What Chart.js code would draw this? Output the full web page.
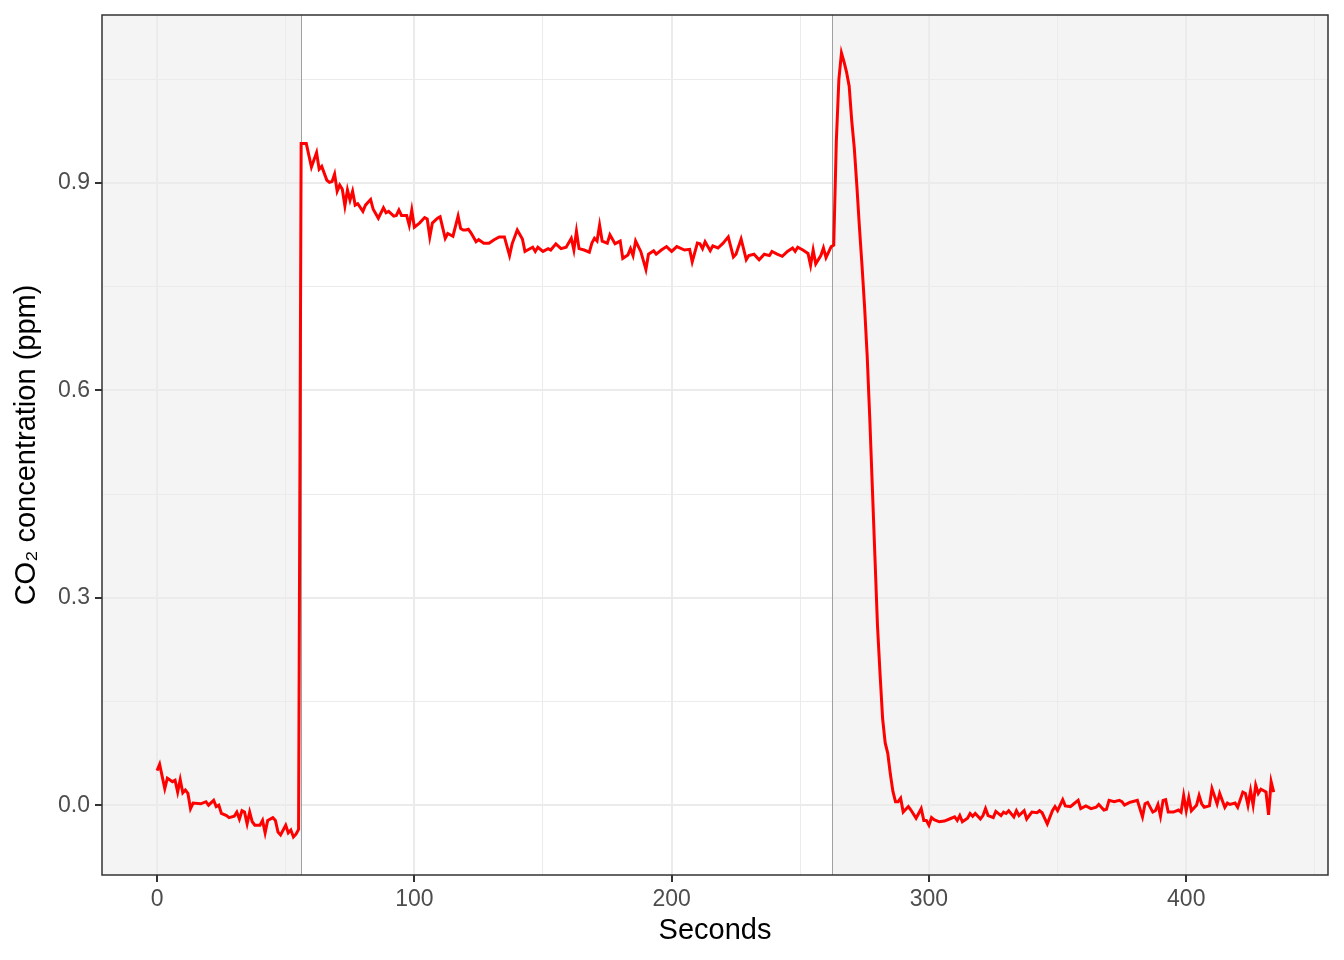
<!DOCTYPE html>
<html lang="en">
<head>
<meta charset="UTF-8">
<title>CO2 concentration</title>
<script src="https://cdn.jsdelivr.net/npm/chart.js"></script>
<style>
  html, body { margin: 0; padding: 0; background: #fff; }
  #wrap { width: 1344px; height: 960px; position: relative; }
</style>
</head>
<body>
<div id="wrap"><canvas id="co2Chart"></canvas></div>
<script>
// time in seconds and CO2 reading
const seconds = [
  0, 1, 3, 4, 6, 7, 8, 9, 10, 11, 12, 13, 14, 17, 19, 20, 22, 23, 24, 25, 27, 28, 30, 31, 32, 33, 34, 35, 36, 37,
  38, 40, 41, 42, 43, 45, 46, 47, 48, 50, 51, 52, 53, 54, 55,
  56, 58, 60, 62, 63, 64, 66, 67, 68, 69, 70, 71, 72, 73, 74, 75, 76, 77, 78, 80, 81, 83, 84, 86, 88, 89, 90, 92, 93, 94,
  95, 97, 98, 99, 100, 102, 104, 105, 106, 107, 109, 110, 112, 113, 115, 117, 118, 119, 120, 121, 122, 124, 125, 127, 129,
  131, 133, 135, 137, 138, 140, 142, 143, 144, 146, 147, 148, 150, 152, 153, 155, 157, 159, 161, 162, 163, 164, 166, 168,
  169, 170, 171, 172, 173, 175, 176, 178, 179, 180, 181, 183, 184, 185, 186, 188, 190, 191, 193, 194, 196, 198, 200, 202,
  205, 207, 208, 210, 211, 212, 213, 215, 216, 218, 220, 222, 224, 225, 227, 229, 230, 232, 234, 236, 238, 239, 241, 243,
  245, 247, 248, 249, 251, 253, 254, 255, 256, 258, 259, 260, 262, 263,
  264, 265, 266, 267, 268, 269, 270, 271, 272, 273, 274, 275, 276, 277, 278, 279, 280, 281, 282, 283, 284, 285, 286, 287,
  288, 289, 290, 292, 293, 295, 296, 297, 298, 299, 300, 301, 302, 304, 306, 308, 310, 311, 312, 313, 315, 316, 317, 318,
  320, 321, 322, 323, 325, 326, 328, 329, 330, 331, 333, 334, 335, 337, 338, 340, 342, 343, 344, 346, 348, 349, 350, 352,
  353, 355, 356, 358, 359, 361, 363, 365, 366, 368, 369, 370, 372, 374, 375, 376, 378, 379, 381, 383, 384, 385, 387, 388,
  389, 390, 391, 392, 393, 395, 397, 398, 399, 400, 401, 402, 404, 405, 406, 407, 409, 410, 412, 413, 415, 416, 417, 419,
  420, 422, 423, 424, 425, 426, 427, 428, 429, 431, 432, 433, 434
];
const co2 = [
  0.050, 0.059, 0.024, 0.039, 0.034, 0.036, 0.019, 0.037, 0.018, 0.022, 0.017, -0.005, 0.003, 0.002, 0.005, 0.000, 0.007,
  -0.002, 0.000, -0.012, -0.015, -0.018, -0.016, -0.010, -0.020, -0.008, -0.010, -0.027, -0.010, -0.024,
  -0.029, -0.029, -0.022, -0.040, -0.022, -0.018, -0.022, -0.039, -0.043, -0.029, -0.040, -0.036, -0.046, -0.042, -0.035,
  0.957, 0.957, 0.923, 0.944, 0.920, 0.924, 0.904, 0.901, 0.902, 0.913, 0.888, 0.897, 0.891, 0.867, 0.890, 0.875, 0.888,
  0.868, 0.870, 0.859, 0.868, 0.876, 0.862, 0.849, 0.864, 0.857, 0.859, 0.852, 0.853, 0.861,
  0.853, 0.853, 0.839, 0.861, 0.836, 0.842, 0.850, 0.848, 0.822, 0.842, 0.849, 0.851, 0.820, 0.827, 0.823, 0.852, 0.834,
  0.832, 0.832, 0.833, 0.828, 0.815, 0.818, 0.813, 0.813,
  0.818, 0.822, 0.822, 0.795, 0.812, 0.832, 0.819, 0.801, 0.803, 0.807, 0.801, 0.807, 0.801, 0.805, 0.803, 0.812, 0.805,
  0.807, 0.820, 0.803, 0.830, 0.805, 0.803, 0.800,
  0.813, 0.820, 0.816, 0.839, 0.816, 0.813, 0.825, 0.812, 0.814, 0.816, 0.791, 0.796, 0.805, 0.795, 0.816, 0.801, 0.775,
  0.797, 0.802, 0.797, 0.803, 0.808, 0.801, 0.808,
  0.803, 0.804, 0.786, 0.813, 0.812, 0.805, 0.815, 0.802, 0.809, 0.806, 0.813, 0.822, 0.793, 0.797, 0.819, 0.789, 0.795,
  0.797, 0.789, 0.797, 0.795, 0.801, 0.797, 0.794,
  0.801, 0.806, 0.801, 0.807, 0.803, 0.798, 0.781, 0.803, 0.783, 0.795, 0.806, 0.792, 0.808, 0.810,
  0.960, 1.050, 1.088, 1.075, 1.060, 1.040, 0.990, 0.950, 0.895, 0.835, 0.780, 0.720, 0.650, 0.560, 0.460, 0.360, 0.260,
  0.190, 0.125, 0.090, 0.075, 0.045, 0.020, 0.005,
  0.005, 0.010, -0.010, -0.002, -0.007, -0.019, -0.012, -0.005, -0.022, -0.022, -0.029, -0.018, -0.021, -0.024, -0.023,
  -0.020, -0.017, -0.022, -0.015, -0.024, -0.019, -0.012, -0.016, -0.012,
  -0.020, -0.015, -0.005, -0.015, -0.018, -0.009, -0.015, -0.010, -0.012, -0.008, -0.017, -0.008, -0.015, -0.008, -0.020,
  -0.010, -0.011, -0.008, -0.011, -0.027, -0.008, -0.002, -0.008, 0.008,
  -0.001, -0.002, 0.001, 0.007, -0.005, -0.001, -0.005, -0.003, 0.001, -0.007, -0.006, 0.007, 0.005, 0.007, 0.005, 0.000,
  0.004, 0.005, 0.007, -0.017, 0.002, 0.004, -0.010, -0.008,
  0.001, -0.016, 0.007, 0.008, -0.010, -0.010, -0.007, -0.010, 0.014, -0.008, 0.011, -0.008, 0.000, 0.014, 0.002, -0.003,
  -0.001, 0.024, 0.002, 0.017, -0.003, 0.003, 0.001, 0.003,
  -0.003, 0.019, 0.017, 0.000, 0.021, 0.000, 0.029, 0.017, 0.023, 0.019, -0.014, 0.034, 0.019
];

const xMajor = [0, 100, 200, 300, 400];
const xMinor = [50, 150, 250, 350, 450];
const yMajor = [0, 0.3, 0.6, 0.9];
const yMinor = [0.15, 0.45, 0.75, 1.05];
// shaded phases: before the gas was switched on and after it was switched off
const shadeEnd = 56;
const shadeStart = 262.7;

const isMajor = (list, v) => list.some(m => Math.abs(m - v) < 1e-9);

const panelPlugin = {
  id: 'panel',
  beforeDraw(chart) {
    const { ctx, chartArea: a, scales: { x } } = chart;
    ctx.save();
    ctx.fillStyle = '#f4f4f4';
    const x1 = x.getPixelForValue(shadeEnd);
    const x2 = x.getPixelForValue(shadeStart);
    ctx.fillRect(a.left, a.top, x1 - a.left, a.bottom - a.top);
    ctx.fillRect(x2, a.top, a.right - x2, a.bottom - a.top);
    ctx.restore();
  },
  beforeDatasetsDraw(chart) {
    const { ctx, chartArea: a, scales: { x } } = chart;
    ctx.save();
    ctx.strokeStyle = '#a0a0a0';
    ctx.lineWidth = 1;
    [shadeEnd, shadeStart].forEach(v => {
      const px = Math.floor(x.getPixelForValue(v)) + 0.5;
      ctx.beginPath();
      ctx.moveTo(px, a.top);
      ctx.lineTo(px, a.bottom);
      ctx.stroke();
    });
    ctx.restore();
  },
  afterDraw(chart) {
    const { ctx, chartArea: a } = chart;
    ctx.save();
    ctx.strokeStyle = '#333333';
    ctx.lineWidth = 1.5;
    ctx.strokeRect(a.left, a.top, a.right - a.left, a.bottom - a.top);
    ctx.restore();
  }
};

const ctx = document.getElementById('co2Chart').getContext('2d');
new Chart(ctx, {
  type: 'line',
  data: {
    datasets: [{
      data: seconds.map((s, i) => ({ x: s, y: co2[i] })),
      borderColor: '#ff0000',
      borderWidth: 3,
      pointRadius: 0,
      tension: 0,
      fill: false
    }]
  },
  options: {
    responsive: true,
    maintainAspectRatio: false,
    animation: false,
    layout: { padding: { left: 0, top: 15, right: 16, bottom: 0 } },
    plugins: { legend: { display: false }, tooltip: { enabled: false } },
    scales: {
      x: {
        type: 'linear',
        min: -21.4,
        max: 455.1,
        afterBuildTicks: s => { s.ticks = [...xMajor, ...xMinor].sort((a, b) => a - b).map(v => ({ value: v })); },
        afterFit: s => { s.height = 85; s.paddingLeft = 0; s.paddingRight = 0; },
        border: { display: false },
        grid: {
          color: '#ebebeb',
          lineWidth: c => isMajor(xMajor, c.tick.value) ? 2 : 1,
          tickColor: c => isMajor(xMajor, c.tick.value) ? '#333333' : 'rgba(0,0,0,0)',
          tickLength: 7,
          tickWidth: 2
        },
        ticks: {
          autoSkip: false,
          maxRotation: 0,
          padding: 4,
          color: '#4d4d4d',
          font: { family: 'Liberation Sans, Arial, sans-serif', size: 23 },
          callback: v => isMajor(xMajor, v) ? String(v) : ''
        },
        title: {
          display: true,
          text: 'Seconds',
          color: '#000000',
          font: { family: 'Liberation Sans, Arial, sans-serif', size: 29 },
          padding: { top: 0, bottom: 12 }
        }
      },
      y: {
        min: -0.101,
        max: 1.143,
        afterBuildTicks: s => { s.ticks = [...yMajor, ...yMinor].sort((a, b) => a - b).map(v => ({ value: v })); },
        afterFit: s => { s.width = 102; s.paddingTop = 0; s.paddingBottom = 0; },
        border: { display: false },
        grid: {
          color: '#ebebeb',
          lineWidth: c => isMajor(yMajor, c.tick.value) ? 2 : 1,
          tickColor: c => isMajor(yMajor, c.tick.value) ? '#333333' : 'rgba(0,0,0,0)',
          tickLength: 7,
          tickWidth: 2
        },
        ticks: {
          autoSkip: false,
          padding: 5,
          color: '#4d4d4d',
          font: { family: 'Liberation Sans, Arial, sans-serif', size: 23 },
          callback: v => isMajor(yMajor, v) ? v.toFixed(1) : ''
        },
        title: {
          display: true,
          text: 'CO₂ concentration (ppm)',
          color: '#000000',
          font: { family: 'Liberation Sans, Arial, sans-serif', size: 29 },
          padding: { top: 10, bottom: 0 }
        }
      }
    }
  },
  plugins: [panelPlugin]
});
</script>
</body>
</html>
